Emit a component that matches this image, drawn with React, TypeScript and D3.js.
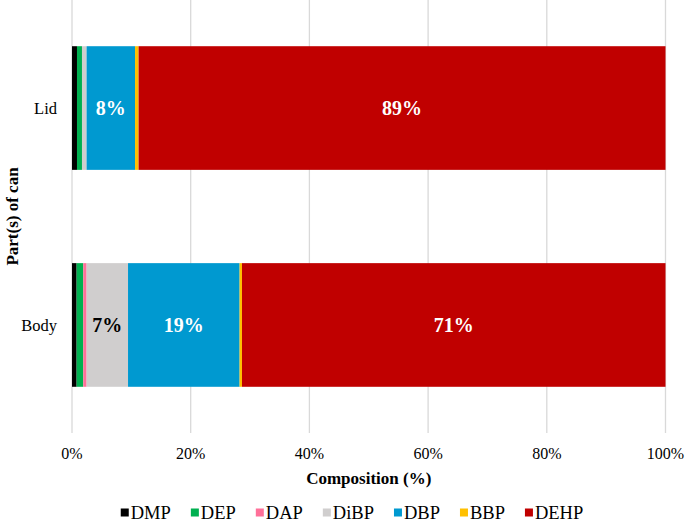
import React, { useEffect, useRef } from "react";
import * as d3 from "d3";

const categories = ["Lid", "Body"];
const seriesNames = ["DMP", "DEP", "DAP", "DiBP", "DBP", "BBP", "DEHP"];
const seriesColors = ["#000000", "#00b050", "#ff7099", "#d0cece", "#0099d0", "#ffc000", "#c00000"];
const lidValues = [0.84, 0.84, 0, 0.78, 8.16, 0.6, 88.78];
const bodyValues = [0.78, 1.12, 0.56, 6.98, 18.8, 0.4, 71.36];
const xTicks = [0, 20, 40, 60, 80, 100];

const W = 685;
const H = 526;
const FONT = "'Liberation Serif', 'Times New Roman', serif";

export default function App() {
  const ref = useRef<SVGSVGElement>(null);

  useEffect(() => {
    const svg = d3.select(ref.current);
    svg.selectAll("*").remove();

    const left = 72, right = 665.5, top = 0, bottom = 433;
    const x = d3.scaleLinear().domain([0, 100]).range([left, right]);
    const y = d3.scaleBand<string>().domain(categories).range([top, bottom]).paddingInner(0.43).paddingOuter(0.213);

    // gridlines
    svg.append("g").selectAll("line").data(xTicks).join("line")
      .attr("x1", d => x(d)).attr("x2", d => x(d))
      .attr("y1", top).attr("y2", bottom)
      .attr("stroke", "#d9d9d9").attr("stroke-width", 1.3);

    const rows = [lidValues, bodyValues];
    rows.forEach((vals, ri) => {
      const cat = categories[ri];
      let acc = 0;
      const g = svg.append("g");
      vals.forEach((v, si) => {
        const x0 = acc;
        acc += v;
        if (v <= 0) return;
        g.append("rect")
          .attr("x", x(x0)).attr("width", x(acc) - x(x0))
          .attr("y", y(cat)!).attr("height", y.bandwidth())
          .attr("fill", seriesColors[si]);
        if (v >= 5) {
          g.append("text")
            .attr("x", (x(x0) + x(acc)) / 2)
            .attr("y", y(cat)! + y.bandwidth() / 2)
            .attr("dy", "0.35em")
            .attr("text-anchor", "middle")
            .attr("font-family", FONT).attr("font-weight", "bold").attr("font-size", 20)
            .attr("fill", seriesNames[si] === "DiBP" ? "#000" : "#fff")
            .text(`${Math.round(v)}%`);
        }
      });
    });

    // x tick labels
    svg.append("g").selectAll("text").data(xTicks).join("text")
      .attr("x", d => x(d)).attr("y", 458.5)
      .attr("text-anchor", "middle")
      .attr("font-family", FONT).attr("font-size", 16).attr("fill", "#000")
      .text(d => `${d}%`);

    // y labels
    svg.append("g").selectAll("text").data(categories).join("text")
      .attr("x", 57).attr("y", d => y(d)! + y.bandwidth() / 2)
      .attr("dy", "0.35em")
      .attr("text-anchor", "end")
      .attr("font-family", FONT).attr("font-size", 16.5).attr("fill", "#000")
      .text(d => d);

    // axis titles
    svg.append("text")
      .attr("x", (left + right) / 2).attr("y", 484)
      .attr("text-anchor", "middle")
      .attr("font-family", FONT).attr("font-weight", "bold").attr("font-size", 17)
      .text("Composition (%)");

    svg.append("text")
      .attr("transform", `translate(18,${(top + bottom) / 2}) rotate(-90)`)
      .attr("text-anchor", "middle")
      .attr("font-family", FONT).attr("font-weight", "bold").attr("font-size", 17)
      .text("Part(s) of can");

    // legend
    const lg = svg.append("g");
    const items = seriesNames.map((name, i) => {
      const it = lg.append("g");
      it.append("rect").attr("x", 0).attr("y", -4.5).attr("width", 8).attr("height", 8).attr("fill", seriesColors[i]);
      const t = it.append("text").attr("x", 10).attr("y", 0).attr("dy", "0.35em")
        .attr("font-family", FONT).attr("font-size", 18.5).attr("fill", "#000").text(name);
      const w = 10 + (t.node() as SVGTextElement).getComputedTextLength();
      return { it, w };
    });
    const gap = 20;
    const total = d3.sum(items, d => d.w) + gap * (items.length - 1);
    let cx = 352 - total / 2;
    items.forEach(({ it, w }) => {
      it.attr("transform", `translate(${cx},513)`);
      cx += w + gap;
    });
  }, []);

  return (
    <svg ref={ref} width={W} height={H} style={{ position: "absolute", left: 0, top: 0, background: "#fff" }} />
  );
}
